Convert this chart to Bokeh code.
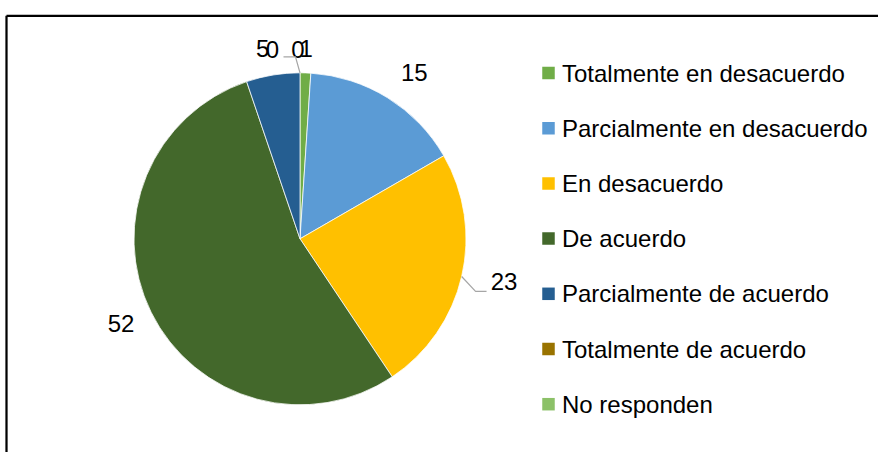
import math
from bokeh.plotting import figure
from bokeh.models import Range1d, ColumnDataSource
from bokeh.core.properties import value
from bokeh.embed import file_html
from bokeh.resources import INLINE

# ---- data ----
categories = ["Totalmente en desacuerdo", "Parcialmente en desacuerdo", "En desacuerdo",
              "De acuerdo", "Parcialmente de acuerdo", "Totalmente de acuerdo", "No responden"]
values = [1, 15, 23, 52, 5, 0, 0]
colors = ["#70AD47", "#5B9BD5", "#FFC000", "#43682B", "#255E91", "#997300", "#8CC168"]

# ---- layout (page pixels) ----
W, H = 878, 452
PAGE_H = 452
def Y(py):
    return PAGE_H - py

CX, CY, R = 299.5, 238.3, 166.0
LABEL_R = 190.0
# per-label nudges (dx, dy) in page pixels
nudges = [(0, 0), (14, -4.5), (19, -0.5), (-8.5, 0.5), (-6.5, -2.5), (-27.5, 0.5), (-2, 0.5)]
FONT = "Liberation Sans"
FS = "24px"

p = figure(width=W, height=H, x_range=Range1d(0, W), y_range=Range1d(PAGE_H - H, PAGE_H),
           output_backend="svg", toolbar_location=None, min_border=0,
           x_axis_location=None, y_axis_location=None)
p.grid.visible = False
p.outline_line_color = None
p.background_fill_color = "white"
p.border_fill_color = "white"

# ---- wedges ----
total = sum(values)
cum = 0
starts, ends, mids = [], [], []
for v in values:
    a0 = math.pi / 2 - 2 * math.pi * cum / total
    cum += v
    a1 = math.pi / 2 - 2 * math.pi * cum / total
    starts.append(a1)
    ends.append(a0)
    mids.append((a0 + a1) / 2)

idx = [i for i, v in enumerate(values) if v > 0]
wsrc = ColumnDataSource(dict(
    start=[starts[i] for i in idx], end=[ends[i] for i in idx], color=[colors[i] for i in idx]))
p.wedge(x=CX, y=Y(CY), radius=R, start_angle="start", end_angle="end", direction="anticlock",
        fill_color="color", line_color="white", line_width=0.75, source=wsrc)

# ---- data labels ----
lx, ly = [], []
for i, m in enumerate(mids):
    px = CX + LABEL_R * math.cos(m) + nudges[i][0]
    py = CY - LABEL_R * math.sin(m) + nudges[i][1]
    lx.append(px)
    ly.append(py)
lsrc = ColumnDataSource(dict(x=lx, y=[Y(v) for v in ly], t=[str(v) for v in values]))
p.text(x="x", y="y", text="t", source=lsrc, text_align="center", text_baseline="middle",
       text_font=value(FONT), text_font_size=FS, text_color="black")

# ---- leader lines ----
leaders = {5: [(23, 7.5), (11, 7.5)], 2: [(-28.5, 10), (-17.5, 10)]}
for i, pts in leaders.items():
    ex = CX + R * math.cos(mids[i])
    ey = CY - R * math.sin(mids[i])
    xs = [ex] + [lx[i] + d[0] for d in pts]
    ys = [Y(ey)] + [Y(ly[i] + d[1]) for d in pts]
    p.line(xs, ys, line_color="#A6A6A6", line_width=1.25)

# ---- legend ----
LEG_X, LEG_Y0, LEG_DY = 548, 72.5, 55.2
gx = [LEG_X] * len(categories)
gy = [Y(LEG_Y0 + LEG_DY * i) for i in range(len(categories))]
gsrc = ColumnDataSource(dict(x=gx, y=gy, tx=[LEG_X + 13.5] * len(categories), c=colors, t=categories))
p.rect(x="x", y="y", width=12.5, height=12.5, fill_color="c", line_color=None, source=gsrc)
p.text(x="tx", y="y", text="t", source=gsrc, text_align="left", text_baseline="middle",
       text_font=value(FONT), text_font_size=FS, text_color="black")

# ---- chart area border (cropped at right/bottom) ----
p.line([6, 900], [Y(15.3), Y(15.3)], line_color="black", line_width=2.25)
p.line([6, 6], [Y(15.3), Y(480)], line_color="black", line_width=2.25)

open("out.html", "w").write(file_html(p, INLINE))
